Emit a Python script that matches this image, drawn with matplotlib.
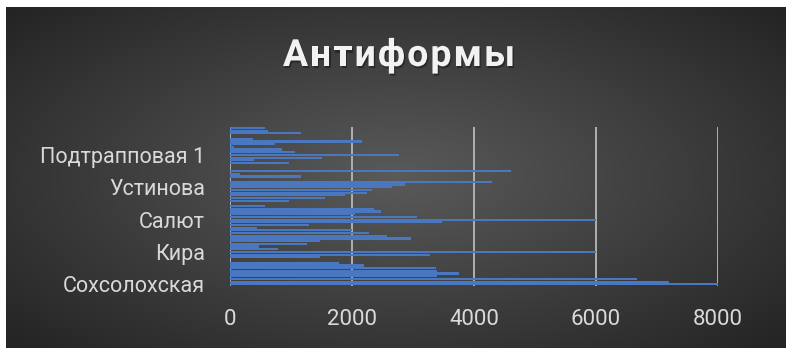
import numpy as np
import matplotlib
matplotlib.use("Agg")
import matplotlib.pyplot as plt
from matplotlib import patheffects as pe

plt.rcParams['font.family'] = ['Roboto', 'DejaVu Sans']

# Values per object, listed bottom to top (59 rows)
values = [
    8000, 7190, 6680, 3400, 3754, 3400, 3385, 2190, 1787, 0,
    1475, 3280, 6000, 780, 475, 1270, 1475, 2975, 2580, 2280,
    2000, 450, 1295, 3480, 6000, 3070, 2050, 2475, 2360, 575,
    0, 970, 1560, 1885, 2250, 2330, 2660, 2870, 4300, 0,
    1170, 160, 4600, 0, 0, 967, 393, 1516, 2770, 1065,
    860, 65, 740, 2170, 370, 0, 1170, 620, 575,
]
# Every 12th category carries a visible name
shown_labels = ["Сохсолохская", "Кира", "Салют", "Устинова", "Подтрапповая 1"]
label_step = 12
x_ticks = [0, 2000, 4000, 6000, 8000]
title = "Антиформы"

W, H = 786, 348
fig = plt.figure(figsize=(W / 100, H / 100), dpi=100, facecolor="white")

# Dark radial-gradient chart area
bg = fig.add_axes([6 / W, 0, 1 - 6 / W, 1 - 7 / H])
bg.set_axis_off()
gx, gy = np.meshgrid(np.linspace(-1, 1, 400), np.linspace(-1, 1, 200))
r = np.clip(np.sqrt((gx * 0.95) ** 2 + (gy * 0.9) ** 2) / 1.3, 0, 1)
inner, outer = np.array([0x5a, 0x5a, 0x5a]) / 255, np.array([0x24, 0x24, 0x24]) / 255
img = inner[None, None, :] * (1 - r[..., None]) + outer[None, None, :] * r[..., None]
bg.imshow(img, aspect="auto", extent=[0, 1, 0, 1], interpolation="bilinear")
bg.set_xlim(0, 1)
bg.set_ylim(0, 1)

ax = fig.add_axes([230 / W, 1 - 285.65 / H, (718 - 230) / W, (285.65 - 126.6) / H])
ax.patch.set_alpha(0)
ypos = np.arange(len(values))
ax.barh(ypos, values, height=0.8, color="#4A78C0", zorder=3, linewidth=0)
ax.set_xlim(0, 8000)
ax.set_ylim(-0.5, len(values) - 0.5)

ax.set_xticks(x_ticks)
ax.set_xticklabels([str(v) for v in x_ticks])
ax.set_yticks(ypos[::label_step][:len(shown_labels)])
ax.set_yticklabels(shown_labels)
ax.tick_params(axis="x", length=0, pad=17, labelsize=16, labelcolor="#d9d9d9")
ax.tick_params(axis="y", length=0, pad=18, labelsize=15.5, labelcolor="#d9d9d9")
for s in ax.spines.values():
    s.set_visible(False)
ax.grid(axis="x", color="#b0b0b0", linewidth=1.4, zorder=1)
ax.grid(axis="y", visible=False)

# Title with widened letter spacing
renderer = fig.canvas.get_renderer()
tkw = dict(fontsize=27, fontweight="bold", color="#f2f2f2",
           path_effects=[pe.withSimplePatchShadow(offset=(1, -1.5), shadow_rgbFace="black", alpha=0.35)])
widths = []
for ch in title:
    t = fig.text(0, 0, ch, **tkw)
    widths.append(t.get_window_extent(renderer).width)
    t.remove()
spacing = 2.0
total = sum(widths) + spacing * (len(title) - 1)
x = 399 - total / 2
for ch, w in zip(title, widths):
    fig.text(x / W, 1 - 66 / H, ch, ha="left", va="baseline", **tkw)
    x += w + spacing

fig.savefig("out.png", dpi=100, facecolor="white")
